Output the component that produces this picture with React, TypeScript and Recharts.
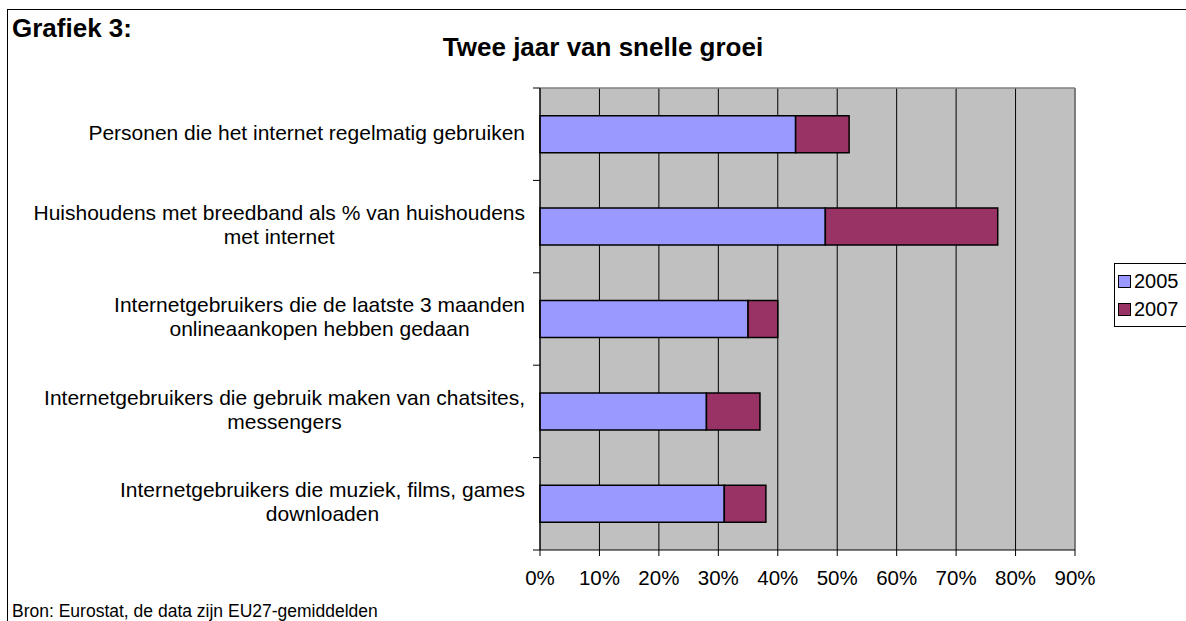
import { Bar, BarChart, CartesianGrid, Legend, ReferenceLine, XAxis, YAxis } from "recharts";

const FONT = '"Liberation Sans", Arial, Helvetica, sans-serif';
const INK = "#000";
const PLOT_BG = "#C0C0C0";
const EDGE = "#808080";

const categories = [
  "Personen die het internet regelmatig gebruiken",
  "Huishoudens met breedband als % van huishoudens\nmet internet",
  "Internetgebruikers die de laatste 3 maanden\nonlineaankopen hebben gedaan",
  "Internetgebruikers die gebruik maken van chatsites,\nmessengers",
  "Internetgebruikers die muziek, films, games\ndownloaden",
];
// share in 2005, and the extra share reached by 2007 (stacked on top)
const share2005 = [43, 48, 35, 28, 31];
const extra2007 = [9, 29, 5, 9, 7];
const xTicks = [0, 10, 20, 30, 40, 50, 60, 70, 80, 90];

const data = categories.map((cat, i) => ({
  cat,
  y2005: share2005[i],
  y2007: extra2007[i],
}));

let measureCtx: CanvasRenderingContext2D | null = null;
function textWidth(s: string, font: string) {
  if (!measureCtx) measureCtx = document.createElement("canvas").getContext("2d");
  if (!measureCtx) return s.length * 10;
  measureCtx.font = font;
  return measureCtx.measureText(s).width;
}

const CAT_SIZE = 21;
const CAT_LINE = 24;
const LABEL_GAP = 15;

// right-aligned block, each line centred inside it (Excel style),
// plus the little tick marks on the band edges
function CategoryTick(props: any) {
  const { x, y, payload, index, visibleTicksCount } = props;
  const lines = String(payload.value).split("\n");
  const widest = Math.max(...lines.map((l) => textWidth(l, `${CAT_SIZE}px ${FONT}`)));
  const cx = x - widest / 2;
  const y0 = y - 2 - ((lines.length - 1) * CAT_LINE) / 2;
  const half = payload.offset ?? 0;
  const axisX = x + LABEL_GAP;
  const isLast = index === (visibleTicksCount ?? categories.length) - 1;
  return (
    <g>
      {half > 0 && <line x1={axisX - 7} x2={axisX} y1={y - half} y2={y - half} stroke={INK} />}
      {half > 0 && isLast && <line x1={axisX - 7} x2={axisX} y1={y + half} y2={y + half} stroke={INK} />}
      <text textAnchor="middle" fontSize={CAT_SIZE} fontFamily={FONT} fill={INK}>
        {lines.map((l, i) => (
          <tspan key={i} x={cx} y={y0 + i * CAT_LINE} dy="0.35em">
            {l}
          </tspan>
        ))}
      </text>
    </g>
  );
}

function LegendBox(props: any) {
  const items = props.payload ?? [];
  return (
    <div
      style={{
        border: "1px solid #000",
        background: "#fff",
        padding: "3px 20px 3px 3px",
        fontFamily: FONT,
        fontSize: 20,
        width: 130,
        boxSizing: "border-box",
      }}
    >
      {items.map((it: any) => (
        <div key={it.value} style={{ display: "flex", alignItems: "center", height: 28 }}>
          <span
            style={{
              display: "inline-block",
              width: 11,
              height: 11,
              border: "1px solid #000",
              background: it.color,
              marginRight: 3,
            }}
          />
          <span>{it.value}</span>
        </div>
      ))}
    </div>
  );
}

export default function App() {
  return (
    <div style={{ position: "absolute", left: 0, top: 0, width: 1186, height: 621, overflow: "hidden", background: "#fff" }}>
      <style>{`body{margin:0;overflow:hidden}`}</style>
      <div
        style={{
          position: "absolute",
          left: 7,
          top: 9,
          width: 1220,
          height: 660,
          border: "1px solid #000",
        }}
      />
      <div style={{ position: "absolute", left: 12, top: 15, fontFamily: FONT, fontWeight: "bold", fontSize: 26, lineHeight: 1 }}>
        Grafiek 3:
      </div>
      <div
        style={{
          position: "absolute",
          left: 403,
          width: 400,
          top: 34,
          textAlign: "center",
          fontFamily: FONT,
          fontWeight: "bold",
          fontSize: 26,
          lineHeight: 1,
        }}
      >
        Twee jaar van snelle groei
      </div>
      <div style={{ position: "absolute", left: 12, top: 603, fontFamily: FONT, fontSize: 17.5, lineHeight: 1 }}>
        Bron: Eurostat, de data zijn EU27-gemiddelden
      </div>
      <div style={{ position: "absolute", left: 0, top: 0 }}>
        <BarChart
          width={1186}
          height={621}
          data={data}
          layout="vertical"
          barCategoryGap="30%"
          margin={{ top: 88, right: 111, bottom: 41, left: 0 }}
        >
          <CartesianGrid yAxisId="cat" horizontal={false} stroke={INK} fill={PLOT_BG} />
          <YAxis yAxisId="edge" type="number" domain={[0, 1]} width={0} hide />
          <YAxis
            yAxisId="cat"
            type="category"
            dataKey="cat"
            width={540}
            interval={0}
            tickLine={false}
            tickSize={0}
            tickMargin={LABEL_GAP}
            axisLine={{ stroke: INK }}
            tick={CategoryTick}
          />
          <XAxis
            type="number"
            domain={[0, 90]}
            ticks={xTicks}
            interval={0}
            height={30}
            tickFormatter={(v: number) => `${v}%`}
            tick={{ fill: INK, fontSize: 20.5, fontFamily: FONT }}
            tickSize={6}
            tickMargin={14}
            axisLine={{ stroke: INK }}
            tickLine={{ stroke: INK }}
          />
          <ReferenceLine yAxisId="cat" x={90} stroke={EDGE} strokeWidth={1.5} />
          <ReferenceLine yAxisId="edge" y={0} stroke={EDGE} strokeWidth={1.5} />
          <Legend
            layout="horizontal"
            verticalAlign="middle"
            align="center"
            wrapperStyle={{ left: 1114, top: 263, width: 130 }}
            content={LegendBox}
          />
          <Bar
            yAxisId="cat"
            dataKey="y2005"
            name="2005"
            stackId="s"
            fill="#9999FF"
            stroke={INK}
            strokeWidth={1.5}
            isAnimationActive={false}
          />
          <Bar
            yAxisId="cat"
            dataKey="y2007"
            name="2007"
            stackId="s"
            fill="#993366"
            stroke={INK}
            strokeWidth={1.5}
            isAnimationActive={false}
          />
        </BarChart>
      </div>
    </div>
  );
}
